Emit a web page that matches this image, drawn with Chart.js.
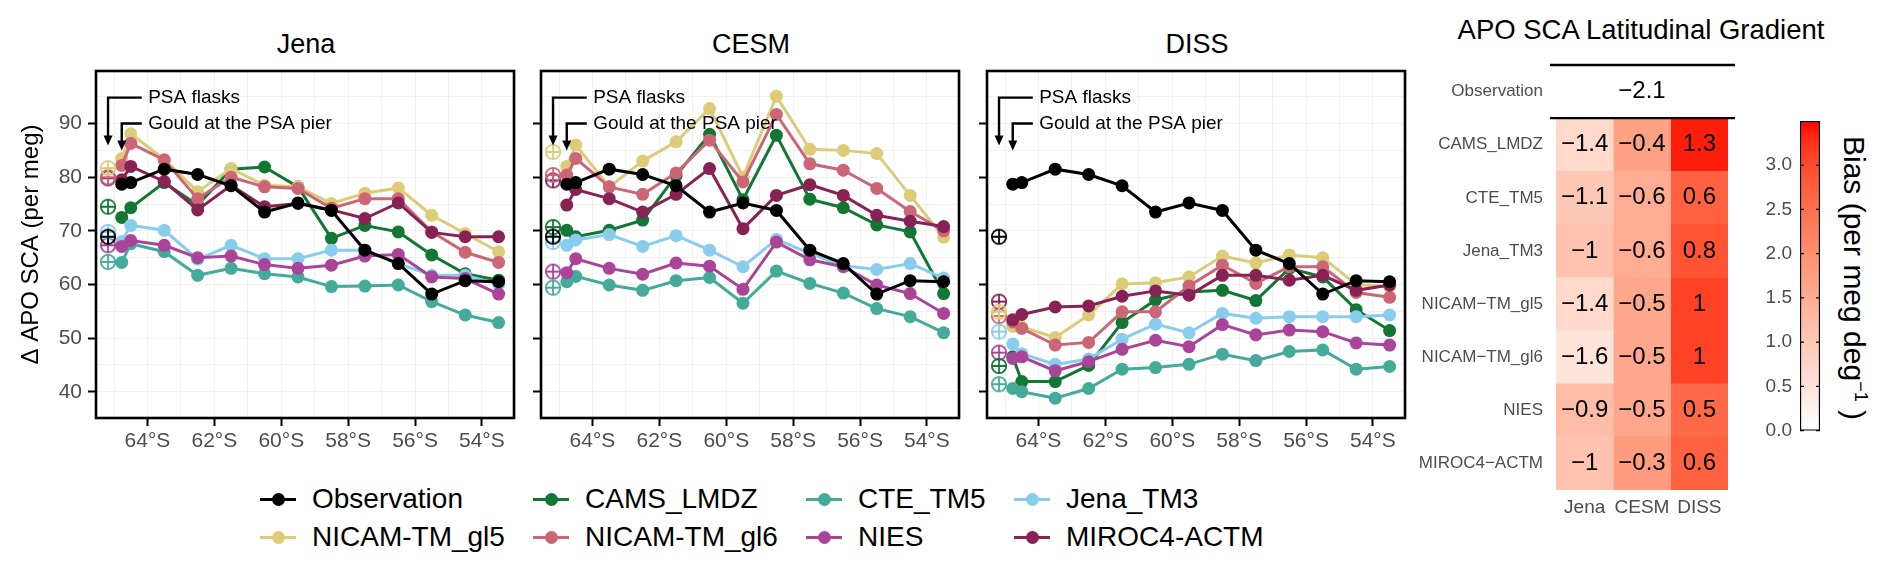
<!DOCTYPE html>
<html>
<head>
<meta charset="utf-8">
<script src="https://cdn.jsdelivr.net/npm/chart.js@4.4.1/dist/chart.umd.min.js"></script>
<style>
  html, body { margin: 0; padding: 0; background: #fff; }
  body { width: 1892px; height: 573px; position: relative; overflow: hidden;
         font-family: 'Liberation Sans', Arial, Helvetica, sans-serif; color: #000; }
  .txt { position: absolute; white-space: nowrap; transform: translate(-50%, -50%); }
  .ptitle { font-size: 27px; }
  .leg { position: absolute; display: flex; align-items: center; height: 36px; font-size: 28px; white-space: nowrap; }
  .key { position: relative; width: 36px; height: 36px; margin-right: 16px; }
  .key .ln { position: absolute; left: 0; top: 16.5px; width: 36px; height: 3px; }
  .key .dt { position: absolute; left: 11.5px; top: 11.5px; width: 13px; height: 13px; border-radius: 50%; }
  #cbTitle { transform: translate(-50%, -50%) rotate(90deg); font-size: 30px; }
  #cbTitle sup { font-size: 18px; }
</style>
</head>
<body>
<div class="txt ptitle" style="left:306px;top:44px">Jena</div>
<div class="txt ptitle" style="left:751px;top:44px">CESM</div>
<div class="txt ptitle" style="left:1197px;top:44px">DISS</div>
<div class="txt" style="left:1641px;top:30px;font-size:27.5px">APO SCA Latitudinal Gradient</div>
<div class="txt" id="cbTitle" style="left:1854px;top:278px">Bias (per meg deg<sup>−1</sup> )</div>

<script>
// ── Data ───────────────────────────────────────────────────
const latitudes     = [64.77, 64.5, 63.5, 62.5, 61.5, 60.5, 59.5, 58.5, 57.5, 56.5, 55.5, 54.5, 53.5];
const flaskLatitude = 65.18;   // PSA flask symbols sit just left of the pier point
const xTicks        = [64, 62, 60, 58, 56, 54];
const yTicks        = [40, 50, 60, 70, 80, 90];

const obsGould = [78.7, 79.0, 81.5, 80.5, 78.4, 73.5, 75.2, 73.8, 66.4, 63.9, 58.2, 60.7, 60.5];
const obsFlask = 68.9;

// model order: CAMS_LMDZ, CTE_TM5, Jena_TM3, NICAM-TM_gl5, NICAM-TM_gl6, NIES, MIROC4-ACTM
const jenaCAMS  = [72.5, 74.3, 79.0, 74.8, 81.5, 81.9, 78.2, 68.6, 71.0, 69.8, 65.5, 62.0, 60.8];
const jenaCTE   = [64.1, 67.6, 66.1, 61.7, 63.0, 62.0, 61.4, 59.6, 59.7, 59.9, 56.8, 54.3, 52.9];
const jenaJTM3  = [68.0, 71.0, 70.1, 64.7, 67.3, 64.8, 64.8, 66.4, 66.4, 63.9, 61.7, 61.7, 60.0];
const jenaGL5   = [83.5, 88.1, 83.3, 77.3, 81.6, 78.5, 78.2, 75.1, 77.0, 78.0, 72.9, 69.5, 66.1];
const jenaGL6   = [82.2, 86.3, 83.2, 76.0, 80.0, 78.2, 77.9, 74.2, 76.0, 76.0, 69.8, 66.0, 64.1];
const jenaNIES  = [67.1, 68.2, 67.3, 65.0, 65.3, 63.7, 63.0, 63.6, 65.3, 65.6, 61.4, 61.1, 58.2];
const jenaMIROC = [79.5, 82.0, 79.2, 73.9, 78.5, 74.5, 75.1, 73.9, 72.3, 75.2, 69.7, 68.9, 68.9];
const jenaFlask = [74.5, 64.2, 69.8, 81.7, 80.0, 67.3, 79.8];

const cesmCAMS  = [70.1, 68.9, 70.1, 72.0, 80.3, 88.0, 75.8, 87.8, 75.9, 74.3, 71.1, 69.8, 58.3];
const cesmCTE   = [60.5, 61.5, 59.9, 58.9, 60.7, 61.3, 56.5, 62.5, 60.2, 58.4, 55.5, 54.0, 51.0];
const cesmJTM3  = [67.3, 68.3, 69.3, 67.1, 69.1, 66.4, 63.3, 68.4, 65.8, 63.5, 62.8, 63.9, 61.2];
const cesmGL5   = [82.0, 86.0, 78.2, 83.0, 86.6, 92.8, 80.0, 95.1, 85.2, 85.0, 84.4, 76.6, 68.8];
const cesmGL6   = [80.4, 83.5, 78.2, 76.8, 80.8, 86.9, 79.1, 91.7, 82.5, 81.3, 77.9, 73.6, 70.0];
const cesmNIES  = [62.2, 64.8, 63.0, 61.9, 64.0, 63.4, 59.1, 67.9, 64.6, 63.3, 59.9, 58.3, 54.6];
const cesmMIROC = [74.8, 77.7, 76.0, 73.5, 76.8, 81.6, 70.4, 76.6, 78.6, 76.6, 72.9, 71.8, 70.8];
const cesmFlask = [70.7, 59.4, 67.9, 84.7, 80.4, 62.4, 79.4];

const dissCAMS  = [46.5, 41.9, 41.9, 44.9, 52.9, 57.1, 58.6, 58.9, 57.0, 63.0, 61.4, 55.3, 51.4];
const dissCTE   = [40.6, 40.0, 38.8, 40.6, 44.2, 44.5, 45.1, 47.0, 45.8, 47.5, 47.8, 44.2, 44.7];
const dissJTM3  = [48.9, 47.1, 45.1, 46.1, 49.8, 52.6, 51.0, 54.6, 53.7, 54.0, 54.0, 54.0, 54.3];
const dissGL5   = [52.2, 52.1, 50.1, 54.3, 60.1, 60.3, 61.4, 65.3, 64.0, 65.5, 65.0, 60.0, 59.6];
const dissGL6   = [53.0, 51.8, 48.7, 49.2, 54.9, 54.9, 59.7, 63.6, 60.2, 63.3, 63.3, 58.5, 57.6];
const dissNIES  = [46.2, 46.5, 43.9, 45.6, 47.9, 49.6, 48.4, 52.5, 50.6, 51.5, 51.2, 49.1, 48.7];
const dissMIROC = [53.4, 54.4, 55.8, 56.0, 57.8, 58.8, 58.0, 61.7, 61.7, 60.8, 61.7, 58.9, 59.9];
const dissFlask = [44.8, 41.4, 51.2, 54.9, 54.1, 47.3, 56.8];

// heatmap: latitudinal gradient per inversion (columns) and model (rows)
const heatRows  = ['CAMS_LMDZ', 'CTE_TM5', 'Jena_TM3', 'NICAM−TM_gl5', 'NICAM−TM_gl6', 'NIES', 'MIROC4−ACTM'];
const heatCols  = ['Jena', 'CESM', 'DISS'];
const gradObs   = -2.1;
const gradJena  = [-1.4, -1.1, -1, -1.4, -1.6, -0.9, -1];
const gradCESM  = [-0.4, -0.6, -0.6, -0.5, -0.5, -0.5, -0.3];
const gradDISS  = [1.3, 0.6, 0.8, 1, 1, 0.5, 0.6];
const biasTicks = [0, 0.5, 1.0, 1.5, 2.0, 2.5, 3.0];
const BIAS_MAX  = 3.5;

const SERIES = [
  { name: 'Observation',  color: '#000000' },
  { name: 'CAMS_LMDZ',    color: '#117733' },
  { name: 'CTE_TM5',      color: '#44AA99' },
  { name: 'Jena_TM3',     color: '#88CCEE' },
  { name: 'NICAM-TM_gl5', color: '#DDCC77' },
  { name: 'NICAM-TM_gl6', color: '#CC6677' },
  { name: 'NIES',         color: '#AA4499' },
  { name: 'MIROC4-ACTM',  color: '#882255' },
];

// ── Layout ─────────────────────────────────────────────────
const PANEL_LEFTS = [96, 541, 987];
const PANEL_W = 420, PANEL_TOP = 71, PANEL_BOTTOM = 418, X_AXIS_H = 42;
const LAT_MAX = 65.54, LAT_MIN = 53.04, Y_MIN = 35.1, Y_MAX = 99.8;
const ANNOT = {
  elbowLat: 64.17, textLat: 63.98,
  arrows: [
    { lat: 65.18, yTop: 94.84, yTip: 85.9, text: 'PSA flasks' },
    { lat: 64.77, yTop: 90.0,  yTip: 85.0, text: 'Gould at the PSA pier' },
  ],
};

Chart.defaults.font.family = "'Liberation Sans', Arial, Helvetica, sans-serif";
Chart.defaults.color = '#4d4d4d';
Chart.defaults.animation = false;
Chart.defaults.plugins.legend.display = false;
Chart.defaults.plugins.tooltip.enabled = false;

function addCanvas(left, top, w, h) {
  const c = document.createElement('canvas');
  c.width = w; c.height = h;
  c.style.cssText = `position:absolute;left:${left}px;top:${top}px;width:${w}px;height:${h}px`;
  document.body.appendChild(c);
  return c;
}

// open circle with a plus, for the PSA flask values
function ringPlus(color) {
  const c = document.createElement('canvas');
  c.width = c.height = 18;
  const g = c.getContext('2d');
  g.strokeStyle = color; g.lineWidth = 1.8;
  g.beginPath(); g.arc(9, 9, 7.2, 0, Math.PI * 2);
  g.moveTo(1.8, 9); g.lineTo(16.2, 9); g.moveTo(9, 1.8); g.lineTo(9, 16.2);
  g.stroke();
  return c;
}

const panelDecor = {
  id: 'panelDecor',
  afterDatasetsDraw(chart) {
    const { ctx, chartArea: a, scales: { x, y } } = chart;
    ctx.save();
    ctx.strokeStyle = '#000'; ctx.fillStyle = '#000';
    ctx.lineWidth = 2.6;
    ctx.strokeRect(a.left, a.top, a.right - a.left, a.bottom - a.top);
    ctx.lineWidth = 2.4;
    ctx.font = "19px 'Liberation Sans', Arial, sans-serif";
    ctx.textBaseline = 'middle';
    const pe = x.getPixelForValue(-ANNOT.elbowLat);
    const pxText = x.getPixelForValue(-ANNOT.textLat);
    ANNOT.arrows.forEach(ar => {
      const px = x.getPixelForValue(-ar.lat);
      const py = y.getPixelForValue(ar.yTop), pt = y.getPixelForValue(ar.yTip);
      ctx.beginPath(); ctx.moveTo(pe, py); ctx.lineTo(px, py); ctx.lineTo(px, pt - 8); ctx.stroke();
      ctx.beginPath(); ctx.moveTo(px, pt); ctx.lineTo(px - 4.5, pt - 10); ctx.lineTo(px + 4.5, pt - 10);
      ctx.closePath(); ctx.fill();
      ctx.fillText(ar.text, pxText, py);
    });
    ctx.restore();
  }
};

function drawPanel(i, models, flask) {
  const yw = i === 0 ? 96 : 14;
  const cv = addCanvas(PANEL_LEFTS[i] - yw, 0, yw + PANEL_W + 6, PANEL_BOTTOM + X_AXIS_H);

  const lines = SERIES.map((s, k) => ({
    data: latitudes.map((lat, j) => ({ x: -lat, y: (k === 0 ? obsGould : models[k - 1])[j] })),
    borderColor: s.color, backgroundColor: s.color,
    borderWidth: 3, pointRadius: 6.5, pointHoverRadius: 6.5, pointBorderWidth: 0,
    order: k === 0 ? 1 : 9 - k,
  }));
  const flaskVals = SERIES.map((s, k) => k === 0 ? obsFlask : flask[k - 1]).reverse();
  const flaskCols = SERIES.map(s => s.color).reverse();
  lines.push({
    data: flaskVals.map(v => ({ x: -flaskLatitude, y: v })),
    showLine: false, pointRadius: 7, pointStyle: flaskCols.map(ringPlus), order: 0,
  });

  const xGrid = []; for (let v = 65; v >= 53; v--) xGrid.push(v);
  const yGrid = []; for (let v = 40; v <= 95; v += 5) yGrid.push(v);

  new Chart(cv, {
    type: 'line',
    data: { datasets: lines },
    options: {
      responsive: false,
      layout: { padding: { top: PANEL_TOP, right: 6, left: 0, bottom: 0 } },
      scales: {
        x: {
          type: 'linear', min: -LAT_MAX, max: -LAT_MIN,
          afterBuildTicks: s => { s.ticks = xGrid.map(v => ({ value: -v })); },
          afterFit: s => { s.height = X_AXIS_H; },
          ticks: { callback: v => xTicks.includes(-v) ? `${-v}°S` : '', autoSkip: false, maxRotation: 0,
                   font: { size: 21 }, color: '#4d4d4d', padding: 3 },
          grid: { color: '#f1f1f1', tickLength: 8, tickWidth: 2,
                  tickColor: c => (c.tick && xTicks.includes(-c.tick.value)) ? '#000' : 'rgba(0,0,0,0)' },
          border: { display: false },
        },
        y: {
          min: Y_MIN, max: Y_MAX,
          afterBuildTicks: s => { s.ticks = yGrid.map(v => ({ value: v })); },
          afterFit: s => { s.width = yw; },
          ticks: { callback: v => (i === 0 && yTicks.includes(v)) ? String(v) : '', autoSkip: false,
                   font: { size: 21 }, color: '#4d4d4d', padding: 6 },
          grid: { color: '#f1f1f1', tickLength: 8, tickWidth: 2,
                  tickColor: c => (c.tick && yTicks.includes(c.tick.value)) ? '#000' : 'rgba(0,0,0,0)' },
          border: { display: false },
          title: { display: i === 0, text: 'Δ APO SCA (per meg)', color: '#000',
                   font: { size: 24 }, padding: { top: 17, bottom: 0 } },
        },
      },
    },
    plugins: [panelDecor],
  });
}

drawPanel(0, [jenaCAMS, jenaCTE, jenaJTM3, jenaGL5, jenaGL6, jenaNIES, jenaMIROC], jenaFlask);
drawPanel(1, [cesmCAMS, cesmCTE, cesmJTM3, cesmGL5, cesmGL6, cesmNIES, cesmMIROC], cesmFlask);
drawPanel(2, [dissCAMS, dissCTE, dissJTM3, dissGL5, dissGL6, dissNIES, dissMIROC], dissFlask);

// ── Legend ─────────────────────────────────────────────────
const LEG_COLS = [312, 585, 858, 1066], LEG_ROWS = [499, 537];
SERIES.forEach((s, k) => {
  const d = document.createElement('div');
  d.className = 'leg';
  d.style.left = (LEG_COLS[k % 4] - 52) + 'px';
  d.style.top = (LEG_ROWS[Math.floor(k / 4)] - 18) + 'px';
  d.innerHTML = `<div class="key"><div class="ln" style="background:${s.color}"></div>` +
                `<div class="dt" style="background:${s.color}"></div></div><span>${s.name}</span>`;
  document.body.appendChild(d);
});

// ── White → red scale, interpolated in CIELAB like ggplot ──
function toLab(hex) {
  const lin = [1, 3, 5].map(i => { const c = parseInt(hex.substr(i, 2), 16) / 255;
    return c <= 0.04045 ? c / 12.92 : Math.pow((c + 0.055) / 1.055, 2.4); });
  const X = (0.4124564 * lin[0] + 0.3575761 * lin[1] + 0.1804375 * lin[2]) / 0.95047;
  const Y =  0.2126729 * lin[0] + 0.7151522 * lin[1] + 0.0721750 * lin[2];
  const Z = (0.0193339 * lin[0] + 0.1191920 * lin[1] + 0.9503041 * lin[2]) / 1.08883;
  const f = t => t > 0.008856 ? Math.cbrt(t) : 7.787 * t + 16 / 116;
  return [116 * f(Y) - 16, 500 * (f(X) - f(Y)), 200 * (f(Y) - f(Z))];
}
function fromLab([L, a, b]) {
  const fy = (L + 16) / 116, fx = fy + a / 500, fz = fy - b / 200;
  const inv = t => t * t * t > 0.008856 ? t * t * t : (t - 16 / 116) / 7.787;
  const X = 0.95047 * inv(fx), Y = inv(fy), Z = 1.08883 * inv(fz);
  const r =  3.2404542 * X - 1.5371385 * Y - 0.4985314 * Z;
  const g = -0.9692660 * X + 1.8760108 * Y + 0.0415560 * Z;
  const bl = 0.0556434 * X - 0.2040259 * Y + 1.0572252 * Z;
  const s = c => Math.round(255 * Math.max(0, Math.min(1, c <= 0.0031308 ? 12.92 * c : 1.055 * Math.pow(c, 1 / 2.4) - 0.055)));
  return `rgb(${s(r)},${s(g)},${s(bl)})`;
}
const LAB_LO = toLab('#FFFFFF'), LAB_HI = toLab('#FF0000');
const labMix = t => fromLab(LAB_LO.map((v, i) => v + (LAB_HI[i] - v) * t));
const biasColor = b => labMix(Math.max(0, Math.min(1, b / BIAS_MAX)));
const fmt = v => (v < 0 ? '−' : '') + Math.abs(v);

// ── Heatmap ────────────────────────────────────────────────
const grads = [gradJena, gradCESM, gradDISS];
const heatText = {
  id: 'heatText',
  afterDatasetsDraw(chart) {
    const { ctx, chartArea: a, scales: { x, y } } = chart;
    ctx.save();
    ctx.fillStyle = '#000';
    ctx.font = "24px 'Liberation Sans', Arial, sans-serif";
    ctx.textAlign = 'center'; ctx.textBaseline = 'middle';
    chart.data.datasets.forEach((ds, j) => {
      chart.getDatasetMeta(j).data.forEach((el, r) => {
        if (r === 0) return;
        const p = el.getProps(['x', 'y', 'base'], true);
        ctx.fillText(fmt(grads[j][r - 1]), (p.x + p.base) / 2, p.y);
      });
    });
    const rowH = (a.bottom - a.top) / (heatRows.length + 1);
    const yc = y.getPixelForValue(0);
    ctx.fillText(fmt(gradObs), x.getPixelForValue(1.5), yc);
    ctx.strokeStyle = '#000'; ctx.lineWidth = 2.4;
    [yc - rowH / 2, yc + rowH / 2].forEach(yy => {
      ctx.beginPath(); ctx.moveTo(a.left - 6, yy); ctx.lineTo(a.right + 7, yy); ctx.stroke();
    });
    ctx.restore();
  }
};

new Chart(addCanvas(1410, 0, 350, 530), {
  type: 'bar',
  data: {
    labels: ['Observation', ...heatRows],
    datasets: heatCols.map((col, j) => ({
      label: col,
      data: [0, ...heatRows].map(() => 1),
      backgroundColor: ['rgba(0,0,0,0)', ...grads[j].map(v => biasColor(v - gradObs))],
      borderWidth: 0, barPercentage: 1, categoryPercentage: 1,
    })),
  },
  options: {
    responsive: false, indexAxis: 'y',
    layout: { padding: { top: 65, right: 32, left: 0, bottom: 0 } },
    scales: {
      x: {
        type: 'linear', stacked: true, min: 0, max: 3,
        afterBuildTicks: s => { s.ticks = heatCols.map((c, j) => ({ value: j + 0.5 })); },
        afterFit: s => { s.height = 40; },
        ticks: { callback: v => heatCols[Math.floor(v)], font: { size: 19 }, color: '#4d4d4d', padding: 6 },
        grid: { display: false, drawTicks: false }, border: { display: false },
      },
      y: {
        stacked: true,
        afterFit: s => { s.width = 146; },
        ticks: { font: { size: 17 }, color: '#4d4d4d', padding: 13 },
        grid: { display: false, drawTicks: false }, border: { display: false },
      },
    },
  },
  plugins: [heatText],
});

// ── Colour bar ─────────────────────────────────────────────
const cbTicks = {
  id: 'cbTicks',
  afterDatasetsDraw(chart) {
    const { ctx, chartArea: a, scales: { y } } = chart;
    ctx.save();
    ctx.strokeStyle = '#000'; ctx.lineWidth = 1.2;
    biasTicks.forEach(v => {
      const py = y.getPixelForValue(v);
      ctx.beginPath();
      ctx.moveTo(a.left, py); ctx.lineTo(a.left + 4, py);
      ctx.moveTo(a.right - 4, py); ctx.lineTo(a.right, py);
      ctx.stroke();
    });
    ctx.restore();
  }
};

new Chart(addCanvas(1740, 100, 90, 350), {
  type: 'bar',
  data: {
    labels: [''],
    datasets: [{
      data: [BIAS_MAX],
      backgroundColor: c => {
        const a = c.chart.chartArea;
        if (!a) return '#f88';
        const g = c.chart.ctx.createLinearGradient(0, a.bottom, 0, a.top);
        for (let k = 0; k <= 20; k++) g.addColorStop(k / 20, labMix(k / 20));
        return g;
      },
      borderColor: '#000', borderWidth: 1.5, borderSkipped: false,
      barPercentage: 1, categoryPercentage: 1,
    }],
  },
  options: {
    responsive: false,
    layout: { padding: { top: 21, right: 10, left: 0, bottom: 14 } },
    scales: {
      x: { display: false },
      y: {
        min: 0, max: BIAS_MAX,
        afterBuildTicks: s => { s.ticks = biasTicks.map(v => ({ value: v })); },
        afterFit: s => { s.width = 60; },
        ticks: { callback: v => v.toFixed(1), font: { size: 19 }, color: '#4d4d4d', padding: 8 },
        grid: { display: false, drawTicks: false }, border: { display: false },
      },
    },
  },
  plugins: [cbTicks],
});
</script>
</body>
</html>
